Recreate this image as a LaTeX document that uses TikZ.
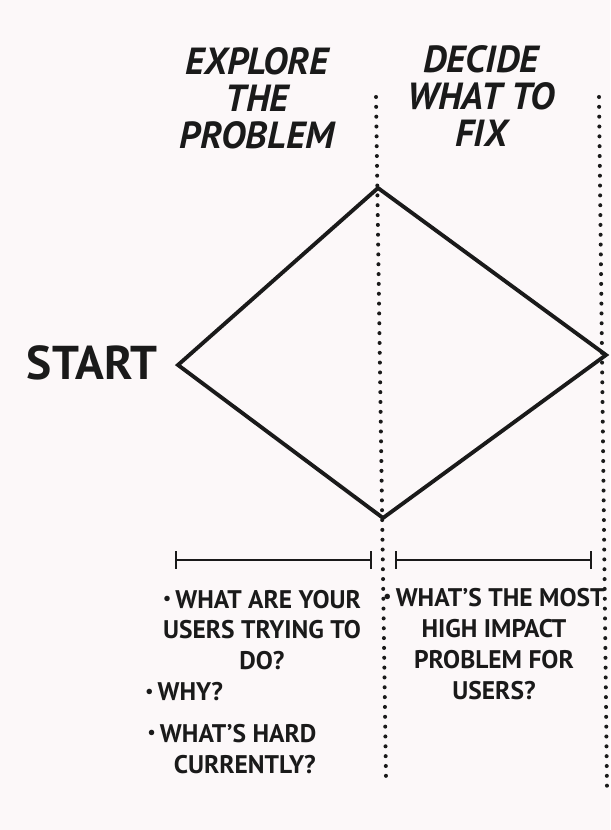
\documentclass[tikz,border=0pt]{standalone}
\usepackage{fontspec}
\setmainfont{PT Sans}
\usepackage{xcolor}
\definecolor{PaperPink}{HTML}{FCF8F9}
\definecolor{InkBlack}{HTML}{1A1A1A}
\usepackage{tikz}
\usetikzlibrary{arrows.meta, positioning}
\newcommand{\pointmark}{\raisebox{0.3ex}{\scalebox{0.7}{•}}\,}

\begin{document}
\begin{tikzpicture}[
        x=0.02cm, y=-0.02cm,
        heading/.style={font=\bfseries\itshape\fontsize{21.5}{21}\selectfont,
                        text=InkBlack, align=center, inner sep=0pt},
        note/.style={font=\bfseries\fontsize{14.5}{17.5}\selectfont,
                     text=InkBlack, inner sep=0pt},
        phase/.style={InkBlack, line width=2.2pt, line join=miter},
        divider/.style={InkBlack, line width=2.3pt, line cap=round,
                        dash pattern=on 0pt off 5.6pt},
        span/.style={InkBlack, line width=1.4pt,
                     {Bar[width=10pt]}-{Bar[width=10pt]}}
      ]
        % Paper
        \fill[PaperPink] (0,0) rectangle (610,830);
        \useasboundingbox (0,0) rectangle (610,830);
        % Phase headings
        \node[heading] (explore) at (257,98) {EXPLORE\\THE\\PROBLEM};
        \node[heading] (decide) at (481,96) {DECIDE\\WHAT TO\\FIX};
        \node[font=\bfseries\fontsize{27}{27}\selectfont, text=InkBlack,
              inner sep=0pt] (start) at (92,363) {START};
        % Diamond corners
        \coordinate (left) at (178,365);
        \coordinate (top) at (378,188);
        \coordinate (bottom) at (383,518);
        \coordinate (right) at (606,355);
        \draw[phase] (left) -- (top) -- (right) -- (bottom) -- cycle;
        % Dotted dividers
        \coordinate (d1top) at (376,97);
        \coordinate (d1bot) at (386,780);
        \coordinate (d2top) at (599,97);
        \coordinate (d2bot) at (607,790);
        \draw[divider] (d1top) -- (d1bot);
        \draw[divider] (d2top) -- (d2bot);
        % Spans
        \coordinate (s1a) at (175,560);
        \coordinate (s1b) at (372,560);
        \coordinate (s2a) at (395,560);
        \coordinate (s2b) at (592,560);
        \draw[span] (s1a) -- (s1b);
        \draw[span] (s2a) -- (s2b);
        % Questions
        \node[note, align=center] (q1) at (262,630) {\pointmark WHAT ARE YOUR\\USERS TRYING TO\\DO?};
        \node[note, anchor=west] (q2) at (145,692) {\pointmark WHY?};
        \node[note, align=center] (q3) at (232,749) {\pointmark WHAT’S HARD\\\quad CURRENTLY?};
        \node[note, align=center] (q4) at (494,644) {\pointmark WHAT’S THE MOST\\HIGH IMPACT\\PROBLEM FOR\\USERS?};
      \end{tikzpicture}
\end{document}
